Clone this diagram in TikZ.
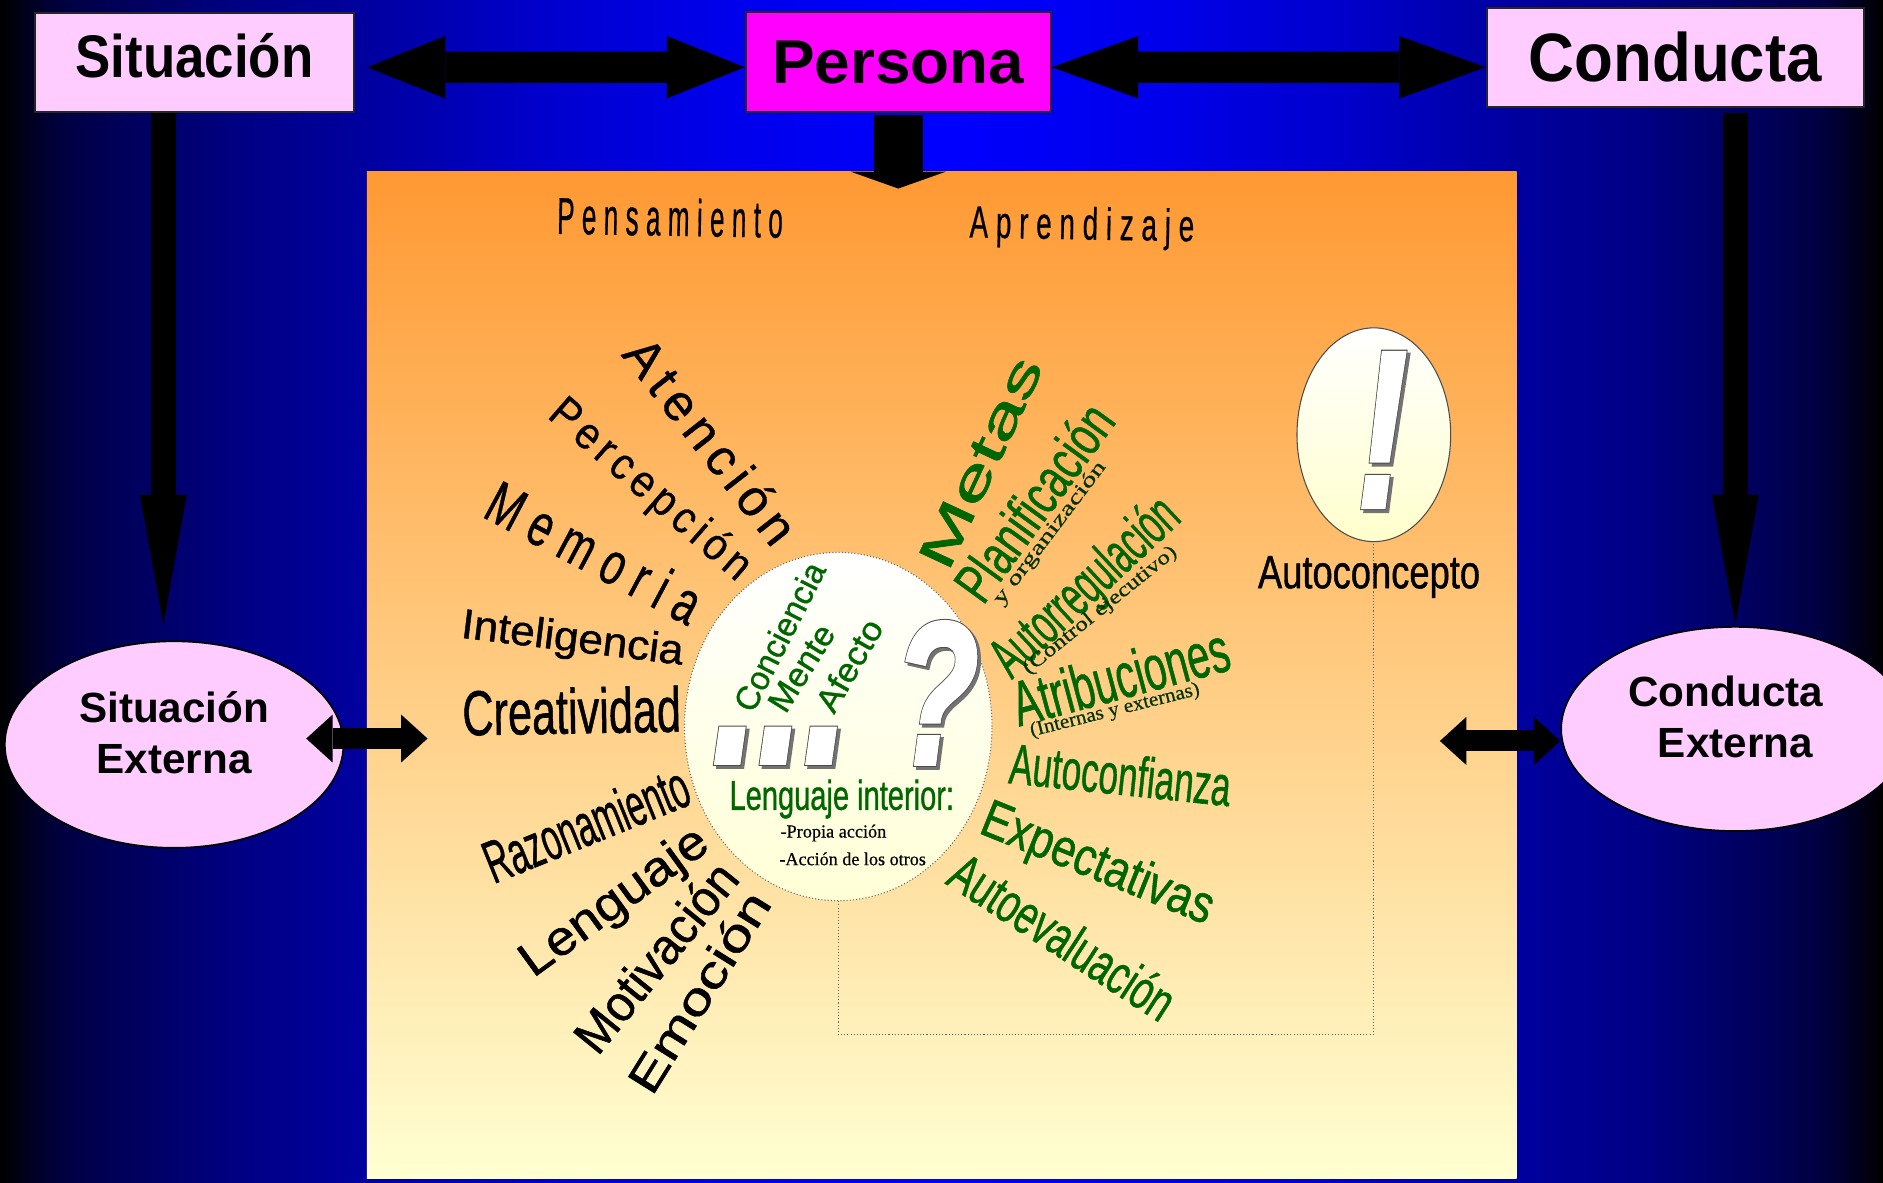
\documentclass[tikz,border=0pt]{standalone}
\usepackage{fontspec}
\usepackage{graphicx}
\usetikzlibrary{arrows.meta,shapes.geometric}
\setmainfont{Liberation Sans}
\newfontfamily\lsp[LetterSpace=14,FakeBold=0.7]{Liberation Sans}
\newfontfamily\lsw[LetterSpace=28,FakeBold=0.7]{Liberation Sans}
\newfontfamily\fat[FakeBold=1.0]{Liberation Sans}
\newfontfamily\tms[FakeBold=0.5]{Liberation Serif}
\newfontfamily\qf[FakeBold=2]{Liberation Sans Bold Italic}
\newfontfamily\qfo[FakeBold=3]{Liberation Sans Bold Italic}
\newlength\upx \setlength\upx{0.02cm}
\newlength\wah
\newcommand\wt[3]{\setlength\wah{\dimexpr#2\upx*128/100\relax}\resizebox{#1\upx}{\wah}{\rule[-.21em]{0pt}{1.13em}#3}}
\newcommand\wa[8]{\node[wordart,#8,rotate=#4] (#1) at (#2,#3) {\wt{#5}{#6}{#7}};}
% white glyph with outline and shadow: name, x, y, box width, box height, glyph
\newcommand\gl[6]{%
  \node[wordart,text=black!55] (#1s) at (#2+2.5,#3+2.5) {\resizebox{#4\upx}{#5\upx}{\qfo #6}};
  \node[wordart,text=black!70] (#1o) at (#2,#3) {\resizebox{#4\upx}{#5\upx}{\qfo #6}};
  \node[wordart,text=white] (#1) at (#2,#3) {\resizebox{#4\upx}{#5\upx}{\qf #6}};}
\definecolor{pinkbox}{HTML}{FFCCFF}
\definecolor{magbox}{HTML}{FF00FF}
\definecolor{grn}{HTML}{006600}
\definecolor{dgrn}{HTML}{003300}
\definecolor{ptop}{HTML}{FF9933}
\definecolor{pmid}{HTML}{FFCF8F}
\definecolor{pbot}{HTML}{FFFFD2}
\pgfdeclarehorizontalshading{bgblue}{100bp}{
  color(0bp)=(black); color(25bp)=(black);
  color(26.6bp)=(black!75!blue); color(28.2bp)=(black!65!blue); color(31.4bp)=(black!48!blue); color(34.6bp)=(black!38!blue);
  color(39.3bp)=(black!20!blue); color(44.1bp)=(black!8!blue); color(50bp)=(blue);
  color(55.9bp)=(black!8!blue); color(60.7bp)=(black!20!blue); color(65.4bp)=(black!38!blue);
  color(68.6bp)=(black!48!blue); color(71.8bp)=(black!65!blue); color(73.4bp)=(black!75!blue); color(75bp)=(black); color(100bp)=(black)}
\tikzset{
  tbox/.style={draw=black!85,line width=0.9pt,rectangle,inner sep=0pt},
  oval/.style={ellipse,draw=black,line width=0.8pt,fill=pinkbox,inner sep=0pt,
    font=\fontsize{20}{24.2}\selectfont\bfseries},
  bigarrow/.style={line width=0.52cm,{Triangle[length=1.3cm,width=1.04cm,line width=0pt]}-{Triangle[length=1.3cm,width=1.04cm,line width=0pt]}},
  bigarrowb/.style={line width=0.52cm,{Triangle[length=1.44cm,width=1.04cm,line width=0pt]}-{Triangle[length=1.44cm,width=1.04cm,line width=0pt]}},
  downarrow/.style={line width=0.42cm,-{Triangle[length=2.16cm,width=0.78cm,line width=0pt]}},
  smallarrow/.style={line width=0.35cm,{Triangle[length=0.44cm,width=0.8cm,line width=0pt]}-{Triangle[length=0.44cm,width=0.8cm,line width=0pt]}},
  wordart/.style={inner sep=0pt,outer sep=0pt},
  wblack/.style={text=black},
  wgreen/.style={text=grn},
  wdark/.style={text=dgrn},
  dotline/.style={draw=black!60,line width=0.5pt,densely dotted},
}
\begin{document}
\begin{tikzpicture}[x=0.02cm,y=-0.02cm]
\useasboundingbox (0,0) rectangle (1568,984.3);
\clip (0,0) rectangle (1568,984.3);
\shade[shading=bgblue] (0,0) rectangle (1568,984.3);
\shade[top color=ptop,middle color=pmid,bottom color=pbot] (305.5,143) rectangle (1263,981);

% top boxes
\node[tbox,fill=pinkbox,minimum width=266\upx,minimum height=82\upx] (sit) at (162,52) {\raisebox{5\upx}[\height][\depth]{\wt{198}{36}{\bfseries Situación}}};
\node[tbox,fill=magbox,minimum width=254\upx,minimum height=83\upx] (per) at (748,51.5) {\wt{210}{37}{\bfseries Persona}};
\node[tbox,fill=pinkbox,minimum width=314\upx,minimum height=82\upx] (con) at (1395,48) {\wt{244}{41}{\bfseries Conducta}};

% external ellipses
\node[oval,minimum width=282\upx,minimum height=172\upx] (se) at (145,620) {\raisebox{6\upx}[\height][\depth]{\begin{tabular}{@{}c@{}}Situación\\Externa\end{tabular}}};
\node[oval,minimum width=290\upx,minimum height=170\upx] (ce) at (1445,607) {\raisebox{6\upx}[\height][\depth]{\begin{tabular}{@{}c@{}}\hspace*{-16\upx}Conducta\\Externa\end{tabular}}};

% inner ellipses
\node[ellipse,dotline,top color=white,bottom color={rgb,255:red,255;green,255;blue,214},minimum width=256\upx,minimum height=290\upx,inner sep=0pt] (ic) at (698,605) {};
\node[ellipse,draw=black!70,line width=0.5pt,top color=white,bottom color={rgb,255:red,255;green,255;blue,204},minimum width=128\upx,minimum height=178\upx,inner sep=0pt] (ac) at (1144,362) {};

% dotted connector
\draw[dotline] (ic.south) -- ++(0,111) -| (ac.south);

% main arrows
\draw[bigarrow,shorten <=10\upx] ([yshift=-4\upx]sit.east) -- ([yshift=-4.5\upx]per.west);
\draw[bigarrowb] ([yshift=-4.5\upx]per.east) -- ([yshift=-8\upx]con.west);
\coordinate (ptip) at (748,157);
\draw[line width=0.82cm,-{Triangle[length=0.28cm,width=1.58cm,line width=0pt]}] (per.south) ++(0,2) -- (ptip);
\coordinate (stip) at (136,520);
\coordinate (ctip) at (1445,520);
\draw[downarrow] (stip |- sit.south) -- (stip);
\draw[downarrow] (ctip |- con.south) ++(0,4) -- (ctip);
\coordinate (la) at (255,615);
\coordinate (lb) at (356,615);
\draw[smallarrow] (la) -- (lb);
\coordinate (ra) at (1199,617);
\draw[smallarrow] (ra) -- (ra -| ce.west);

% headings
\wa{pens}{558}{181}{-1}{188}{31}{\lsw Pensamiento}{wblack}
\wa{apre}{901}{186}{-1}{187}{27}{\lsw Aprendizaje}{wblack}

% thinking words
\wa{aten}{592}{367}{-52}{205}{31}{\lsp Atención}{wblack}
\wa{perc}{543}{406}{-41}{210}{27}{\lsp Percepción}{wblack}
\wa{memo}{495}{460}{-28}{195}{36}{\lsw Memoria}{wblack}
\wa{inte}{477}{530}{-7}{186}{25}{\fat Inteligencia}{wblack}
\wa{crea}{476}{592}{1}{182}{38}{\fat Creatividad}{wblack}
\wa{razo}{488}{686}{22}{180}{36}{\fat Razonamiento}{wblack}
\wa{leng}{510}{749}{36}{184}{29}{\fat Lenguaje}{wblack}
\wa{moti}{546}{797}{51}{190}{30}{\fat Motivación}{wblack}
\wa{emoc}{582}{826}{58}{190}{27}{\fat Emoción}{wblack}

% learning words
\wa{meta}{816}{385}{65}{190}{30}{\fat Metas}{wgreen}
\wa{plan}{861}{418}{54}{190}{34}{\fat Planificación}{wgreen}
\wa{yorg}{873}{443}{53}{145}{12}{\tms y organización}{wdark}
\wa{auto}{902}{487}{43}{195}{35}{\fat Autorregulación}{wgreen}
\wa{ctrl}{915}{507}{39}{160}{12}{\tms (Control ejecutivo)}{wdark}
\wa{atri}{933}{563}{15}{185}{38}{\fat Atribuciones}{wgreen}
\wa{inex}{928}{590}{14}{145}{12}{\tms (Internas y externas)}{wdark}
\wa{conf}{933}{645}{-6}{185}{34}{\fat Autoconfianza}{wgreen}
\wa{expe}{915}{717}{-22}{205}{32}{\fat Expectativas}{wgreen}
\wa{eval}{885}{780}{-33}{214}{33}{\fat Autoevaluación}{wgreen}

% inside the circle
\wa{conc}{649}{530}{63}{135}{20}{\fat Conciencia}{wgreen}
\wa{ment}{667}{556}{58}{80}{20}{\fat Mente}{wgreen}
\wa{afec}{707}{554}{60}{84}{20}{\fat Afecto}{wgreen}
\gl{d1}{612}{621}{38}{28}{.}
\gl{d2}{650}{621}{38}{28}{.}
\gl{d3}{688}{621}{38}{28}{.}
\gl{qm}{780}{577}{70}{118}{?}
\wa{lint}{701}{662}{0}{187}{25}{\fat Lenguaje interior:}{wgreen}
\wa{prop}{694}{692}{0}{88}{11}{\tms -Propia acción}{wblack}
\wa{acci}{710}{715}{0}{122}{11}{\tms -Acción de los otros}{wblack}

% self-concept
\gl{ex}{1151}{358}{42}{128}{!}
\wa{acon}{1140}{476}{0}{185}{28}{\fat Autoconcepto}{wblack}
\end{tikzpicture}
\end{document}
